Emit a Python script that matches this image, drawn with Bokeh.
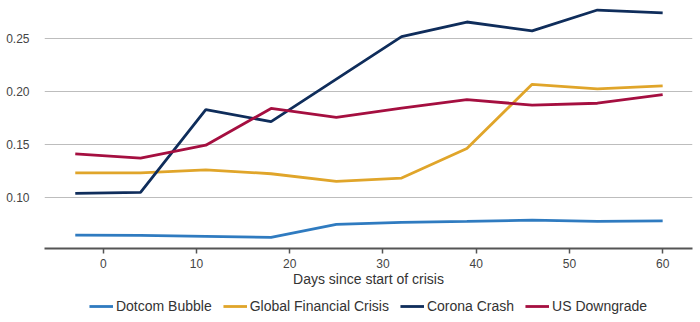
from bokeh.plotting import figure
from bokeh.layouts import column
from bokeh.models import Legend, LegendItem, Range1d, FixedTicker, NumeralTickFormatter
from bokeh.embed import file_html
from bokeh.resources import INLINE

days = [-3, 4, 11, 18, 25, 32, 39, 46, 53, 60]
dotcom = [0.0647, 0.0644, 0.0635, 0.0625, 0.0747, 0.0766, 0.0775, 0.0787, 0.0775, 0.0780]
gfc = [0.1234, 0.1234, 0.1262, 0.1225, 0.1153, 0.1184, 0.1464, 0.2068, 0.2025, 0.2053]
corona = [0.1040, 0.1050, 0.1830, 0.1716, 0.2118, 0.2518, 0.2656, 0.2572, 0.2769, 0.2743]
us_down = [0.1412, 0.1372, 0.1494, 0.1841, 0.1757, 0.1844, 0.1925, 0.1872, 0.1890, 0.1972]

names = ["Dotcom Bubble", "Global Financial Crisis", "Corona Crash", "US Downgrade"]
series = [dotcom, gfc, corona, us_down]
colors = ["#2F7BC0", "#E0A52A", "#0F2D5B", "#A50F40"]

FONT = "Liberation Sans"

p = figure(width=700, height=290, output_backend="svg", toolbar_location=None,
           x_range=Range1d(-6.3, 63.2), y_range=Range1d(0.052, 0.284),
           min_border_left=44, min_border_right=8, min_border_top=2, min_border_bottom=42)
p.outline_line_color = None
p.background_fill_color = "white"

for name, ys, c in zip(names, series, colors):
    p.line(days, ys, line_color=c, line_width=2.8)

p.xgrid.grid_line_color = None
p.ygrid.grid_line_color = "#BDBDBD"
p.ygrid.grid_line_width = 1.2

p.xaxis.ticker = FixedTicker(ticks=[0, 10, 20, 30, 40, 50, 60])
p.xaxis.axis_line_color = "#555555"
p.xaxis.axis_line_width = 2
p.xaxis.major_tick_line_color = "#555555"
p.xaxis.major_tick_line_width = 1.5
p.xaxis.major_tick_out = 5
p.xaxis.major_tick_in = 0
p.xaxis.minor_tick_line_color = None
p.xaxis.major_label_standoff = 5
p.xaxis.axis_label = "Days since start of crisis"
p.xaxis.axis_label_standoff = 0
p.xaxis.axis_label_text_font_style = "normal"

p.yaxis.ticker = FixedTicker(ticks=[0.10, 0.15, 0.20, 0.25])
p.yaxis.formatter = NumeralTickFormatter(format="0.00")
p.yaxis.axis_line_color = None
p.yaxis.major_tick_line_color = None
p.yaxis.minor_tick_line_color = None
p.yaxis.major_label_standoff = 9

for ax in (p.xaxis[0], p.yaxis[0]):
    ax.major_label_text_font = FONT
    ax.major_label_text_font_size = "12px"
    ax.major_label_text_color = "#444444"
    ax.axis_label_text_font = FONT
    ax.axis_label_text_font_size = "14px"
    ax.axis_label_text_color = "#333333"

# separate strip holding only the legend (its lines sit outside its visible range)
lg = figure(width=700, height=32, output_backend="svg", toolbar_location=None,
            x_range=Range1d(1000, 1001), y_range=Range1d(0, 1),
            x_axis_type=None, y_axis_type=None,
            min_border_left=16, min_border_right=0, min_border_top=0, min_border_bottom=0)
lg.outline_line_color = None
lg.xgrid.grid_line_color = None
lg.ygrid.grid_line_color = None
items = []
for name, ys, c in zip(names, series, colors):
    r = lg.line(days, ys, line_color=c, line_width=2.8)
    items.append(LegendItem(label=name, renderers=[r]))

legend = Legend(items=items, orientation="horizontal", location="center",
                glyph_width=24, glyph_height=14, label_standoff=3, spacing=11,
                label_text_font=FONT, label_text_font_size="14px",
                label_text_color="#333333", border_line_color=None,
                background_fill_alpha=0, padding=0, margin=0)
lg.add_layout(legend, "center")

layout = column(p, lg, spacing=0)
open("out.html", "w").write(file_html(layout, INLINE))
